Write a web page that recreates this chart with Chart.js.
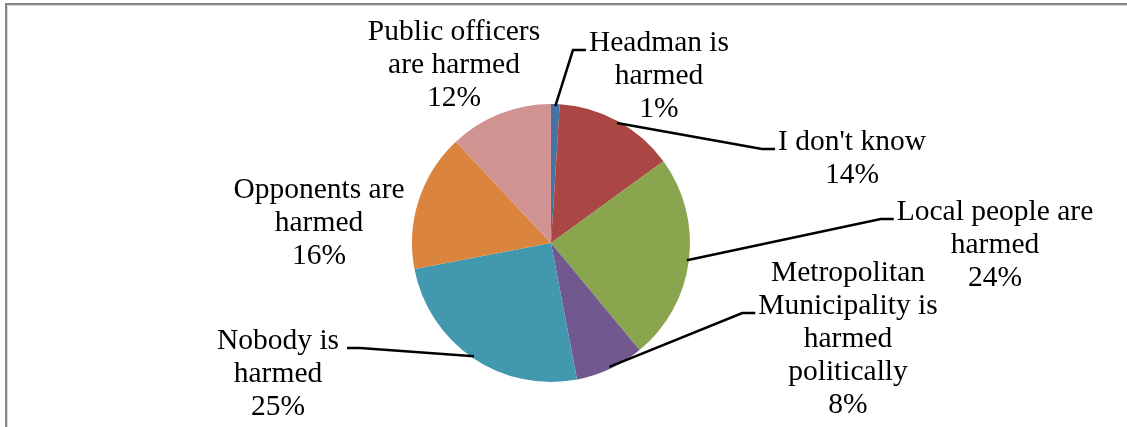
<!DOCTYPE html>
<html>
<head>
<meta charset="utf-8">
<script src="https://cdn.jsdelivr.net/npm/chart.js@4/dist/chart.umd.min.js"></script>
<style>
    body { margin: 0; background: #fff; }
    #wrap { position: relative; width: 1127px; height: 427px; overflow: hidden; }
    #frame {
        position: absolute; left: 5px; top: 3px; width: 1300px; height: 600px;
        border-left: 2px solid #868686; border-top: 2px solid #868686;
        box-shadow: inset 1px 1px 0 #d9d9d9;
    }
    canvas { position: absolute; left: 0; top: 0; }
</style>
</head>
<body>
<div id="wrap">
    <div id="frame"></div>
    <canvas id="pieChart" width="1127" height="427"></canvas>
</div>
<script>
// Slice data, clockwise from 12 o'clock
const categories = [
    'Headman is harmed',
    "I don't know",
    'Local people are harmed',
    'Metropolitan Municipality is harmed politically',
    'Nobody is harmed',
    'Opponents are harmed',
    'Public officers are harmed'
];
const shares = [1, 14, 24, 8, 25, 16, 12];
const sliceColors = ['#4572A7', '#AA4643', '#89A54E', '#71588F', '#4198AF', '#DB843D', '#D19392'];

// How each label is broken into lines (the last line is the percentage)
const labelLines = [
    ['Headman is', 'harmed'],
    ["I don't know"],
    ['Local people are', 'harmed'],
    ['Metropolitan', 'Municipality is', 'harmed', 'politically'],
    ['Nobody is', 'harmed'],
    ['Opponents are', 'harmed'],
    ['Public officers', 'are harmed']
];

// Label placement: centre x, first line y, which line the leader joins (null = no leader), side
const labelLayout = [
    { x: 659, y: 43, leader: 0, side: 'left' },
    { x: 852, y: 142, leader: 0, side: 'left' },
    { x: 995, y: 212, leader: 0, side: 'left' },
    { x: 848, y: 273, leader: 1, side: 'left' },
    { x: 278, y: 341, leader: 0, side: 'right' },
    { x: 319, y: 190, leader: null },
    { x: 454, y: 32, leader: null }
];

const labelPlugin = {
    id: 'pieLabels',
    afterDatasetsDraw(chart) {
        const ctx = chart.ctx;
        const arcs = chart.getDatasetMeta(0).data;
        ctx.save();
        ctx.font = '29.5px "Liberation Serif", "Times New Roman", serif';
        ctx.fillStyle = '#000';
        ctx.textAlign = 'center';
        ctx.textBaseline = 'middle';
        labelLayout.forEach((lay, i) => {
            const lines = labelLines[i].concat([shares[i] + '%']);
            lines.forEach((t, j) => ctx.fillText(t, lay.x, lay.y + j * 33));

            if (lay.leader === null) return;
            const arc = arcs[i];
            const mid = (arc.startAngle + arc.endAngle) / 2;
            const r = arc.outerRadius - 2;
            const sx = arc.x + Math.cos(mid) * r;
            const sy = arc.y + Math.sin(mid) * r;
            const w = ctx.measureText(lines[lay.leader]).width;
            const ly = lay.y + lay.leader * 33 + 7;
            let ex, bx;
            if (lay.side === 'left') {
                ex = lay.x - w / 2 - 3;
                bx = ex - 13;
            } else {
                ex = lay.x + w / 2 + 8;
                bx = ex + 13;
            }
            ctx.beginPath();
            ctx.moveTo(sx, sy);
            ctx.lineTo(bx, ly);
            ctx.lineTo(ex, ly);
            ctx.strokeStyle = '#000';
            ctx.lineWidth = 2.5;
            ctx.stroke();
        });
        ctx.restore();
    }
};

new Chart(document.getElementById('pieChart').getContext('2d'), {
    type: 'pie',
    data: {
        labels: categories,
        datasets: [{
            data: shares,
            backgroundColor: sliceColors,
            borderWidth: 0
        }]
    },
    options: {
        responsive: false,
        animation: false,
        layout: {
            padding: { left: 412, right: 437, top: 104, bottom: 45 }
        },
        plugins: {
            legend: { display: false },
            tooltip: { enabled: false }
        }
    },
    plugins: [labelPlugin]
});
</script>
</body>
</html>
